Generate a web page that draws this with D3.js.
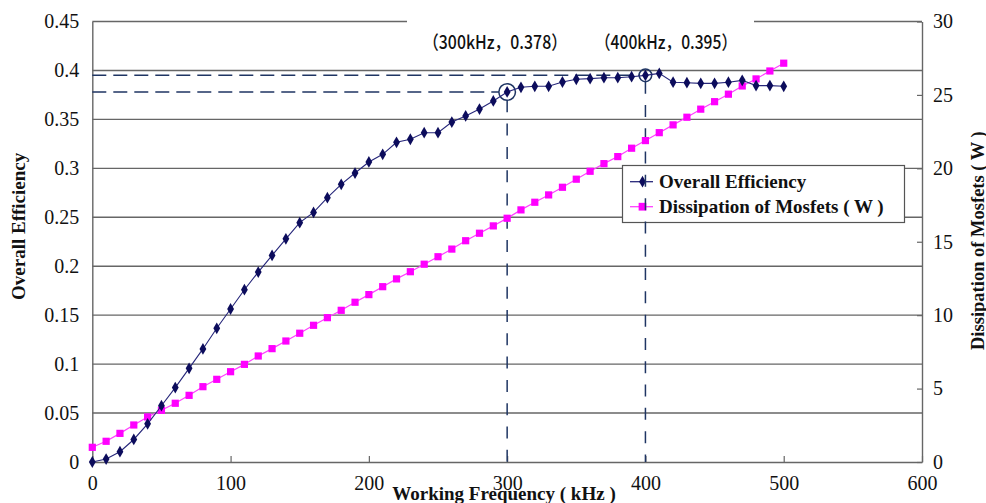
<!DOCTYPE html>
<html>
<head>
<meta charset="utf-8">
<script src="https://cdn.jsdelivr.net/npm/d3@7"></script>
<style>
  body { margin: 0; background: #fff; }
  svg { display: block; }
</style>
</head>
<body>
<svg id="chart" width="986" height="503"></svg>
<script>
// data
const freq = [0, 10, 20, 30, 40, 50, 60, 70, 80, 90, 100, 110, 120, 130, 140, 150, 160, 170, 180, 190,
  200, 210, 220, 230, 240, 250, 260, 270, 280, 290, 300, 310, 320, 330, 340, 350, 360, 370, 380, 390,
  400, 410, 420, 430, 440, 450, 460, 470, 480, 490, 500];
const efficiency = [0.000, 0.003, 0.0105, 0.023, 0.039, 0.0575, 0.076, 0.0957, 0.1155, 0.1366,
  0.1563, 0.176, 0.194, 0.211, 0.228, 0.2445, 0.255, 0.270, 0.2837, 0.2952,
  0.3065, 0.3143, 0.3266, 0.3297, 0.3364, 0.3364, 0.3473, 0.3535, 0.3606, 0.3688,
  0.378, 0.3828, 0.3838, 0.3838, 0.3882, 0.391, 0.3916, 0.3926, 0.3926, 0.3936,
  0.395, 0.397, 0.388, 0.3875, 0.3868, 0.3868, 0.388, 0.3899, 0.3845, 0.3845, 0.3838];
const dissipation = [1.0, 1.41, 1.95, 2.52, 3.07, 3.52, 4.0, 4.54, 5.13, 5.63,
  6.15, 6.65, 7.22, 7.72, 8.24, 8.77, 9.31, 9.83, 10.33, 10.88,
  11.4, 11.94, 12.47, 12.96, 13.47, 13.98, 14.5, 15.07, 15.58, 16.08,
  16.6, 17.17, 17.69, 18.19, 18.71, 19.26, 19.8, 20.32, 20.8, 21.37,
  21.89, 22.43, 22.96, 23.48, 24.03, 24.54, 25.05, 25.61, 26.09, 26.63, 27.16];
const xTicks = [0, 100, 200, 300, 400, 500, 600];
const leftTicks = [0, 0.05, 0.1, 0.15, 0.2, 0.25, 0.3, 0.35, 0.4, 0.45];
const rightTicks = [0, 5, 10, 15, 20, 25, 30];
const marked = [
  { f: 300, e: 0.378, label: '（300kHz，0.378）', r: 8.3 },
  { f: 400, e: 0.395, label: '（400kHz，0.395）', r: 6.3 },
];
const seriesNames = ['Overall Efficiency', 'Dissipation of Mosfets ( W )'];

const NAVY = '#0c0c5c';
const PINK = '#ff00ff';
const DASH = '#1f3563';
const GRID = '#666';
const serif = "'Liberation Serif', 'Times New Roman', serif";

const svg = d3.select('#chart').style('font-family', serif);

const x = d3.scaleLinear().domain([0, 600]).range([92.3, 922]);
const yL = d3.scaleLinear().domain([0, 0.45]).range([462, 21.5]);
const yR = d3.scaleLinear().domain([0, 30]).range([462, 21.5]);

// horizontal grid
svg.append('g').selectAll('line')
    .data(leftTicks.slice(1))
    .enter().append('line')
    .attr('x1', x(0)).attr('x2', x(600))
    .attr('y1', d => yL(d)).attr('y2', d => yL(d))
    .attr('stroke', GRID).attr('stroke-width', 1.4);

// white patch where the annotation sits on the top border
svg.append('rect')
    .attr('x', 407).attr('y', 12).attr('width', 347).attr('height', 44)
    .attr('fill', '#fff');

// bottom axis, ticks pointing inward
const xAxis = svg.append('g')
    .attr('transform', `translate(0,${yL(0)})`)
    .call(d3.axisBottom(x).tickValues(xTicks).tickSizeInner(-6).tickSizeOuter(0).tickPadding(14));
xAxis.select('.domain').attr('stroke', GRID).attr('stroke-width', 1.4);
xAxis.selectAll('.tick line').attr('stroke', GRID).attr('stroke-width', 1.2);
xAxis.selectAll('.tick text')
    .attr('fill', '#111').style('font-size', '20px').style('font-family', serif);

// left axis
const lAxis = svg.append('g')
    .attr('transform', `translate(${x(0)},0)`)
    .call(d3.axisLeft(yL).tickValues(leftTicks).tickSize(0).tickPadding(13).tickFormat(d => d3.format('')(+d.toFixed(2))));
lAxis.select('.domain').attr('stroke', GRID).attr('stroke-width', 1.4);
lAxis.selectAll('.tick text')
    .attr('fill', '#111').style('font-size', '20px').style('font-family', serif);

// right axis, ticks inward
const rAxis = svg.append('g')
    .attr('transform', `translate(${x(600)},0)`)
    .call(d3.axisRight(yR).tickValues(rightTicks).tickSizeInner(-5).tickSizeOuter(0).tickPadding(11));
rAxis.select('.domain').attr('stroke', GRID).attr('stroke-width', 1.4);
rAxis.selectAll('.tick line').attr('stroke', GRID).attr('stroke-width', 1.2);
rAxis.selectAll('.tick text')
    .attr('fill', '#111').style('font-size', '20px').style('font-family', serif);

// guide lines to the two marked points
const guides = svg.append('g').attr('stroke', DASH).attr('stroke-width', 1.5).attr('fill', 'none');
guides.selectAll('line.h')
    .data(marked)
    .enter().append('line')
    .attr('class', 'h')
    .attr('x1', x(0)).attr('x2', d => x(d.f) - d.r)
    .attr('y1', d => yL(d.e)).attr('y2', d => yL(d.e))
    .attr('stroke-dasharray', '14,7');

// legend box (the 400 kHz guide runs over it)
const legend = svg.append('g');
legend.append('rect')
    .attr('x', 622.5).attr('y', 165.5).attr('width', 282).attr('height', 57)
    .attr('fill', '#fff').attr('stroke', '#555').attr('stroke-width', 1.2);

guides.selectAll('line.v')
    .data(marked)
    .enter().append('line')
    .attr('class', 'v')
    .attr('x1', d => x(d.f)).attr('x2', d => x(d.f))
    .attr('y1', d => yL(d.e) + d.r).attr('y2', yL(0))
    .attr('stroke-dasharray', '12,11.3');
guides.raise();

guides.selectAll('circle')
    .data(marked)
    .enter().append('circle')
    .attr('cx', d => x(d.f)).attr('cy', d => yL(d.e)).attr('r', d => d.r);

// series
const pts = freq.map((f, i) => ({ f, e: efficiency[i], p: dissipation[i] }));

svg.append('path')
    .datum(pts)
    .attr('fill', 'none').attr('stroke', '#ff40ff').attr('stroke-width', 1.2)
    .attr('d', d3.line().x(d => x(d.f)).y(d => yR(d.p)));
svg.append('g').selectAll('path')
    .data(pts)
    .enter().append('path')
    .attr('transform', d => `translate(${x(d.f)},${yR(d.p)})`)
    .attr('d', d3.symbol(d3.symbolSquare, 52))
    .attr('fill', PINK);

svg.append('path')
    .datum(pts)
    .attr('fill', 'none').attr('stroke', '#26267a').attr('stroke-width', 1.1)
    .attr('d', d3.line().x(d => x(d.f)).y(d => yL(d.e)));
svg.append('g').selectAll('path')
    .data(pts)
    .enter().append('path')
    .attr('transform', d => `translate(${x(d.f)},${yL(d.e)})`)
    .attr('d', d3.symbol(d3.symbolDiamond, 40))
    .attr('fill', NAVY);

// legend entries
const rows = legend.selectAll('g.row')
    .data(seriesNames)
    .enter().append('g')
    .attr('class', 'row')
    .attr('transform', (d, i) => `translate(630,${181.7 + i * 25})`);
rows.append('line')
    .attr('x1', 0).attr('x2', 23)
    .attr('stroke', (d, i) => i ? '#ff40ff' : '#26267a').attr('stroke-width', 1.3);
rows.append('path')
    .attr('transform', 'translate(12.5,0)')
    .attr('d', (d, i) => d3.symbol(i ? d3.symbolSquare : d3.symbolDiamond, i ? 60 : 40)())
    .attr('fill', (d, i) => i ? PINK : NAVY);
rows.append('text')
    .attr('x', 29).attr('dy', '0.34em')
    .style('font-size', '19px').style('font-weight', 'bold')
    .attr('fill', '#111')
    .text(d => d);

// annotation labels
svg.append('g').selectAll('text')
    .data(marked)
    .enter().append('text')
    .attr('x', (d, i) => i ? 595 : 423)
    .attr('y', 49)
    .attr('textLength', (d, i) => i ? 142 : 144)
    .attr('lengthAdjust', 'spacingAndGlyphs')
    .style('font-family', "'Noto Sans CJK SC', sans-serif")
    .style('font-size', '18.5px')
    .style('font-weight', 500)
    .attr('fill', '#111')
    .text(d => d.label);

// axis titles
svg.append('text')
    .attr('x', 504).attr('y', 499.5)
    .attr('text-anchor', 'middle')
    .style('font-size', '19px').style('font-weight', 'bold')
    .attr('fill', '#111')
    .text('Working Frequency ( kHz )');

svg.append('text')
    .attr('transform', 'translate(25,300) rotate(-90)')
    .style('font-size', '19px').style('font-weight', 'bold')
    .attr('fill', '#111')
    .text('Overall Efficiency');

svg.append('text')
    .attr('transform', 'translate(983.5,350) rotate(-90)')
    .style('font-size', '18.5px').style('font-weight', 'bold')
    .attr('fill', '#111')
    .text('Dissipation of Mosfets ( W )');
</script>
</body>
</html>
